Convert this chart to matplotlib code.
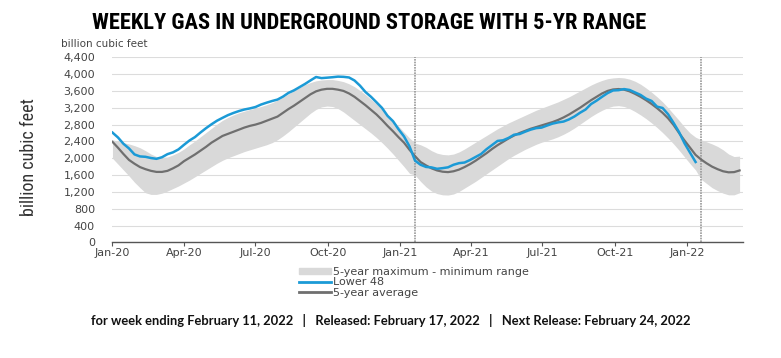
import matplotlib
matplotlib.use("Agg")
import matplotlib.pyplot as plt
import matplotlib.dates as mdates
from matplotlib import font_manager
from matplotlib.lines import Line2D
from matplotlib.patches import Patch
import pandas as pd

# weekly points (bcf), plotted on the chart's own weekly grid starting Jan-20
lower48 = [2610, 2494, 2343, 2234, 2091, 2043, 2034, 2005, 1986, 2024,
           2097, 2140, 2210, 2319, 2422, 2503, 2612, 2714, 2807, 2892,
           2960, 3025, 3077, 3122, 3159, 3185, 3218, 3276, 3320, 3360,
           3395, 3465, 3554, 3614, 3690, 3766, 3850, 3931, 3905, 3915,
           3926, 3940, 3935, 3920, 3848, 3725, 3573, 3460, 3330, 3196,
           3009, 2881, 2689, 2518, 2281, 1943, 1845, 1793, 1782, 1749,
           1764, 1784, 1845, 1883, 1898, 1958, 2029, 2100, 2215, 2313,
           2411, 2427, 2483, 2559, 2575, 2630, 2679, 2715, 2728, 2777,
           2823, 2852, 2872, 2924, 2994, 3082, 3158, 3288, 3369, 3461,
           3548, 3611, 3618, 3644, 3623, 3564, 3505, 3417, 3362, 3226,
           3195, 3046, 2840, 2621, 2353, 2131, 1911]

avg_5yr = [2390, 2250, 2100, 1960, 1870, 1790, 1740, 1700, 1675, 1675,
           1700, 1760, 1830, 1930, 2010, 2090, 2180, 2270, 2370, 2450,
           2530, 2580, 2630, 2680, 2730, 2770, 2800, 2840, 2890, 2940,
           2990, 3080, 3170, 3250, 3340, 3430, 3520, 3590, 3630, 3650,
           3650, 3630, 3600, 3540, 3460, 3360, 3260, 3150, 3040, 2910,
           2770, 2640, 2500, 2370, 2200, 2050, 1910, 1830, 1760, 1710,
           1680, 1670, 1690, 1730, 1790, 1860, 1940, 2030, 2120, 2220,
           2310, 2390, 2470, 2540, 2600, 2650, 2700, 2740, 2780, 2820,
           2860, 2910, 2970, 3040, 3120, 3200, 3290, 3380, 3460, 3540,
           3600, 3635, 3645, 3630, 3590, 3530, 3460, 3380, 3290, 3190,
           3080, 2950, 2790, 2600, 2420, 2250, 2080, 1970, 1880, 1800,
           1740, 1690, 1665, 1670, 1710]

max_5yr = [2440, 2400, 2370, 2340, 2300, 2250, 2180, 2100, 2040, 2020,
           2030, 2080, 2140, 2220, 2320, 2410, 2510, 2610, 2710, 2810,
           2900, 2970, 3030, 3080, 3120, 3160, 3190, 3230, 3270, 3320,
           3380, 3450, 3530, 3610, 3680, 3750, 3800, 3840, 3860, 3870,
           3870, 3850, 3820, 3770, 3700, 3610, 3510, 3400, 3290, 3170,
           3040, 2900, 2760, 2620, 2480, 2360, 2320, 2260, 2180, 2120,
           2090, 2080, 2100, 2150, 2220, 2300, 2380, 2460, 2540, 2620,
           2700, 2770, 2840, 2900, 2960, 3020, 3080, 3140, 3190, 3240,
           3290, 3340, 3400, 3460, 3530, 3600, 3670, 3740, 3800, 3850,
           3890, 3910, 3920, 3910, 3880, 3830, 3760, 3670, 3570, 3460,
           3340, 3200, 3050, 2900, 2740, 2600, 2500, 2440, 2390, 2340,
           2280, 2200, 2100, 2040, 2050]

min_5yr = [2000, 1860, 1720, 1580, 1430, 1300, 1180, 1140, 1140, 1170,
           1220, 1280, 1340, 1410, 1480, 1560, 1640, 1720, 1800, 1880,
           1950, 2010, 2060, 2110, 2160, 2200, 2240, 2280, 2320, 2370,
           2440, 2530, 2630, 2740, 2850, 2960, 3070, 3160, 3220, 3240,
           3230, 3180, 3100, 3000, 2900, 2800, 2700, 2600, 2490, 2370,
           2240, 2100, 1950, 1800, 1640, 1600, 1450, 1320, 1220, 1160,
           1130, 1125, 1150, 1210, 1290, 1370, 1450, 1540, 1630, 1720,
           1810, 1900, 1990, 2070, 2140, 2210, 2270, 2330, 2380, 2420,
           2460, 2510, 2570, 2640, 2720, 2810, 2900, 2990, 3070, 3140,
           3200, 3240, 3250, 3230, 3180, 3110, 3030, 2940, 2840, 2730,
           2610, 2480, 2340, 2190, 2030, 1870, 1720, 1500, 1400, 1300,
           1230, 1170, 1130, 1130, 1180]

weeks = pd.date_range("2020-01-01", periods=len(avg_5yr), freq="7D")
marker_weeks = [weeks[55], weeks[107]]

y_ticks = list(range(0, 4401, 400))

blue = "#1b9ad6"
grey_line = "#6f6f6f"
band = "#d9d9d9"

# narrow bold face for the headline, if one is around
installed = {f.name for f in font_manager.fontManager.ttflist}
title_font = "Roboto"
for cand in ["Liberation Sans Narrow", "Roboto Condensed", "DejaVu Sans Condensed"]:
    if cand in installed:
        title_font = cand
        break

fig = plt.figure(figsize=(7.81, 3.58), dpi=100)
ax = fig.add_axes([0.143, 0.323, 0.808, 0.517])

ax.fill_between(weeks, min_5yr, max_5yr, color=band, lw=0, zorder=1)
ax.plot(weeks, avg_5yr, color=grey_line, lw=1.6, zorder=3)
ax.plot(weeks[:len(lower48)], lower48, color=blue, lw=1.8, zorder=4)
for d in marker_weeks:
    ax.axvline(d, color="#9a9a9a", lw=1.2, ls=(0, (1, 0.6)), zorder=2)

ax.set_ylim(0, 4400)
ax.set_yticks(y_ticks)
ax.set_yticklabels([f"{v:,}" for v in y_ticks])
ax.set_xlim(weeks[0] - pd.Timedelta(days=1), pd.Timestamp("2022-03-13"))
ax.xaxis.set_major_locator(mdates.MonthLocator(bymonth=[1, 4, 7, 10]))
ax.xaxis.set_major_formatter(mdates.DateFormatter("%b-%y"))
ax.grid(axis="y", color="#dcdcdc", lw=0.8, zorder=0)
ax.set_axisbelow(True)
for s in ["top", "right", "left"]:
    ax.spines[s].set_visible(False)
ax.spines["bottom"].set_color("#555555")
ax.spines["bottom"].set_linewidth(1.0)
ax.tick_params(axis="y", length=0, labelsize=8, labelcolor="#444444", pad=12)
ax.tick_params(axis="x", length=3, color="#555555", labelsize=8, labelcolor="#444444", pad=1)

ax.set_ylabel("billion cubic feet", fontsize=13, color="#333333",
              family=[title_font, "DejaVu Sans"])
ax.yaxis.set_label_coords(-0.117, 0.46)
ax.text(-0.08, 1.055, "billion cubic feet", transform=ax.transAxes, fontsize=7.5, color="#444444")

fig.text(0.118, 0.935, "WEEKLY GAS IN UNDERGROUND STORAGE WITH 5-YR RANGE",
         fontsize=14.5 if title_font == "Roboto" else 16.2, fontweight="bold",
         family=[title_font, "DejaVu Sans"], va="center", ha="left")

handles = [Patch(color=band, label="5-year maximum - minimum range"),
           Line2D([], [], color=blue, lw=2, label="Lower 48"),
           Line2D([], [], color=grey_line, lw=2, label="5-year average")]
fig.legend(handles=handles, loc="upper left", bbox_to_anchor=(0.376, 0.27), frameon=False,
           fontsize=8, labelspacing=0.05, handlelength=2.9, handleheight=0.5,
           handletextpad=0.1, borderpad=0, labelcolor="#444444")

fig.text(0.5, 0.105, "for week ending February 11, 2022   |   Released: February 17, 2022   |   Next Release: February 24, 2022",
         ha="center", va="center", fontsize=9.3, fontweight="bold", family=["Lato", "DejaVu Sans"], color="#111111")

fig.savefig("out.png", dpi=100)
